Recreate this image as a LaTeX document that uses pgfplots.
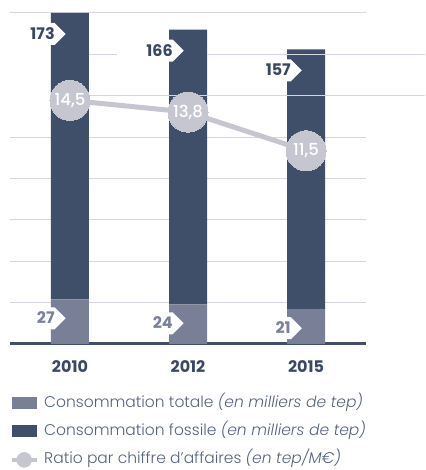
\documentclass[border=0pt]{standalone}
\usepackage{fontspec}
\setmainfont{Poppins}[UprightFont=* Light, ItalicFont=* Light Italic, BoldFont=* SemiBold]
\newfontfamily\regfont{Poppins}
\newfontfamily\medfont{Poppins Medium}
\usepackage{pgfplots}
\pgfplotsset{compat=1.18}
\usepackage{pgfplotstable}
\usetikzlibrary{shapes.symbols}

\definecolor{dark}{HTML}{3F4E69}
\definecolor{light}{HTML}{787F96}
\definecolor{circ}{HTML}{C5C6D0}
\definecolor{gridc}{HTML}{D6D6DF}
\definecolor{txtdark}{HTML}{3A4864}
\definecolor{txtlight}{HTML}{7A8198}
\definecolor{legtxt}{HTML}{56627C}

\pgfplotstableread{
x total fossil ratio
0 27 173 14.5
1 24 166 13.8
2 21 157 11.5
}\data

\pgfplotsset{
  legsq/.style={legend image code/.code={\fill[#1] (0pt,-6pt) rectangle (25pt,6pt);}},
  samebox/.style={at={(10pt,126pt)}, anchor=south west, scale only axis,
     width=356pt, height=331pt, xmin=-0.508, xmax=2.508, clip=false},
}
\tikzset{
  arrowlab/.style={shape=signal, signal to=east, signal pointer angle=90, fill=white,
     inner xsep=0pt, inner ysep=5.5pt, text height=11pt, text depth=0pt,
     anchor=east, xshift=-4pt, font=\regfont\bfseries\fontsize{16}{16}\selectfont},
}

\begin{document}
\begin{tikzpicture}
\begin{axis}[
  samebox, ymin=0, ymax=200,
  ybar stacked, bar width=38pt,
  axis line style={draw=none}, tick style={draw=none},
  xtick={0,1,2}, xticklabels={2010,2012,2015},
  xticklabel style={font=\regfont\bfseries\fontsize{16}{16}\selectfont, text=txtdark, anchor=base, yshift=-29pt},
  ytick={0,25,50,75,100,125,200}, yticklabels={},
  ymajorgrids, major grid style={gridc, line width=1pt},
  legend style={at={(0,-0.157)}, anchor=north west, draw=none, fill=none,
     inner sep=0pt, row sep=14pt, column sep=5pt,
     font=\fontsize{15.5}{15.5}\selectfont, text=legtxt,
     nodes={inner sep=0pt, text height=11pt, text depth=3pt}},
  legend cell align=left,
]
\draw[gridc, line width=1pt] (axis cs:0.161,150) -- (axis cs:3.008,150);
\draw[gridc, line width=1pt] (axis cs:0.161,175) -- (axis cs:0.398,175);
\draw[gridc, line width=1pt] (axis cs:1.161,175) -- (axis cs:3.008,175);
\addplot[fill=light, draw=none, legsq=light] table[x=x, y=total]{\data};
\addlegendentry{Consommation totale \textit{(en milliers de tep)}}
\addplot[fill=dark, draw=none, legsq=dark] table[x=x, y=fossil]{\data};
\addlegendentry{Consommation fossile \textit{(en milliers de tep)}}
\addlegendimage{legend image code/.code={\draw[circ, line width=4pt] (0pt,0pt) -- (25pt,0pt); \fill[circ] (12pt,0pt) circle (7.5pt);}}
\addlegendentry{Ratio par chiffre d'affaires \textit{(en tep/M€)}}
\draw[dark, line width=3pt] (axis cs:-0.508,0) -- (axis cs:2.508,0);
\end{axis}
% value labels (white arrow tags)
\begin{axis}[samebox, ymin=0, ymax=200, hide axis,
  /pgf/number format/assume math mode=true]
\addplot[draw=none, mark=none, nodes near coords, point meta=explicit,
   every node near coord/.style={arrowlab, yshift=-19pt, text=txtlight}]
   table[x=x, y=total, meta=total]{\data};
\addplot[draw=none, mark=none, nodes near coords, point meta=explicit,
   every node near coord/.style={arrowlab, yshift=-21pt, text=txtdark}]
   table[x=x, y expr=\thisrow{total}+\thisrow{fossil}, meta=fossil]{\data};
\end{axis}
% ratio line
\begin{axis}[samebox, ymin=0, ymax=19.7, hide axis,
  /pgf/number format/assume math mode=true,
  /pgf/number format/use comma, /pgf/number format/fixed,
  /pgf/number format/fixed zerofill, /pgf/number format/precision=1,
]
\addplot[circ, line width=5pt, mark=*, mark size=20pt,
   mark options={line width=0pt, fill=circ, draw=circ},
   nodes near coords,
   every node near coord/.style={anchor=center, text=white, font=\medfont\fontsize{16.5}{16.5}\selectfont}]
   table[x=x, y=ratio]{\data};
\end{axis}
\pgfresetboundingbox
\path (0,0) rectangle (425pt,470pt);
\end{tikzpicture}
\end{document}
